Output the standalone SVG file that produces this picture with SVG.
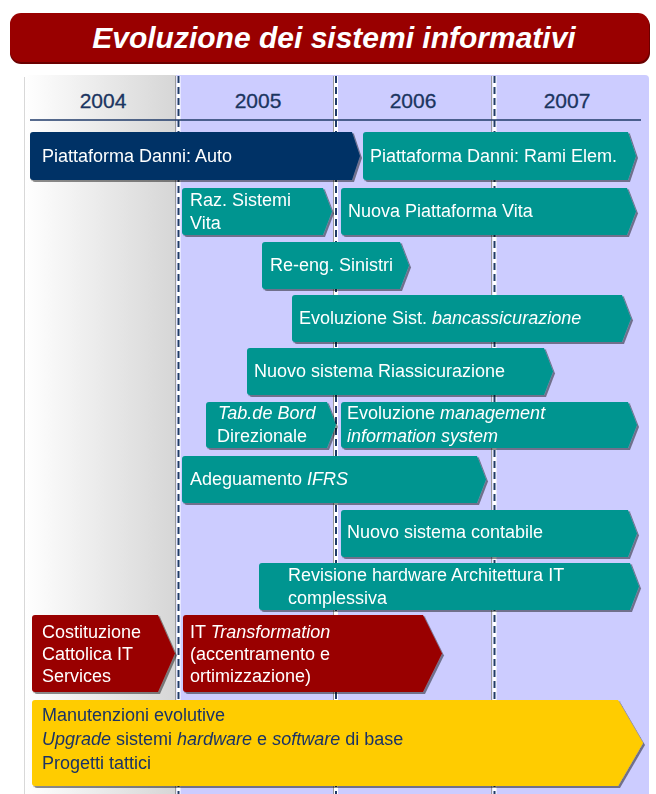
<svg xmlns="http://www.w3.org/2000/svg" width="656" height="794" viewBox="0 0 656 794">
  <defs>
    <linearGradient id="col2004" x1="0" y1="0" x2="1" y2="0">
      <stop offset="0" stop-color="#ffffff"/>
      <stop offset="1" stop-color="#d6d6d6"/>
    </linearGradient>
    <filter id="shade" x="-5%" y="-10%" width="110%" height="130%">
      <feOffset in="SourceAlpha" dx="1.5" dy="1.5" result="off"/>
      <feColorMatrix in="off" type="matrix" values="0 0 0 0 0  0 0 0 0 0  0 0 0 0 0  0 0 0 0.45 0" result="sh"/>
      <feMerge><feMergeNode in="sh"/><feMergeNode in="SourceGraphic"/></feMerge>
    </filter>
    <style>
      text { font-family: "Liberation Sans", Arial, sans-serif; }
      .title { font-size: 30px; font-weight: bold; font-style: italic; fill: #ffffff; }
      .year { font-size: 21px; fill: #1b3560; text-anchor: middle; stroke: #1b3560; stroke-width: 0.3; }
      .bar { filter: url(#shade); }
      .navy { fill: #003366; }
      .teal { fill: #009590; }
      .red { fill: #990000; }
      .gold { fill: #ffcc00; }
      .lbl { font-size: 18px; fill: #ffffff; }
      .dk { font-size: 18px; fill: #1a3366; }
      .it { font-style: italic; }
      .sep { stroke: #1f3a68; stroke-width: 2; stroke-dasharray: 7 4; }
      .sepbg { stroke: #ffffff; stroke-width: 4; }
      .edge { stroke: #9a9a9a; stroke-width: 1; }
    </style>
  </defs>

  <!-- title banner -->
  <g id="title">
    <rect x="10" y="15" width="640" height="49" rx="11" fill="#6a0000"/>
    <rect x="10" y="13" width="639" height="49" rx="11" fill="#990000"/>
    <text class="title" x="334" y="48" text-anchor="middle">Evoluzione dei sistemi informativi</text>
  </g>

  <!-- timeline background -->
  <g id="timeline">
    <path d="M24 794 V79 Q24 75 28 75 H176 V794 Z" fill="url(#col2004)"/>
    <line x1="24.5" y1="77" x2="24.5" y2="794" stroke="#d8d8d8"/>
    <path d="M176 794 V75 H645 Q649 75 649 79 V794 Z" fill="#ccccff"/>
    <line class="edge" x1="175.5" y1="76" x2="175.5" y2="794"/>
    <line class="edge" x1="333.5" y1="76" x2="333.5" y2="794"/>
    <line class="edge" x1="491.5" y1="76" x2="491.5" y2="794"/>
    <line class="sepbg" x1="178.5" y1="76" x2="178.5" y2="794"/>
    <line class="sepbg" x1="336" y1="76" x2="336" y2="794"/>
    <line class="sepbg" x1="494.5" y1="76" x2="494.5" y2="794"/>
    <line class="sep" x1="178.5" y1="76" x2="178.5" y2="794"/>
    <line class="sep" x1="336" y1="76" x2="336" y2="794"/>
    <line class="sep" x1="494.5" y1="76" x2="494.5" y2="794"/>
    <text class="year" x="103" y="108">2004</text>
    <text class="year" x="258" y="108">2005</text>
    <text class="year" x="413" y="108">2006</text>
    <text class="year" x="567" y="108">2007</text>
    <line x1="30" y1="120" x2="641" y2="120" stroke="#1f3a68" stroke-width="1.6"/>
  </g>

  <!-- projects -->
  <g id="danni-auto" class="bar">
    <path class="navy" d="M33 132 H352 L360 156 L352 180 H33 Q30 180 30 177 V135 Q30 132 33 132 Z"/>
    <text class="lbl" x="42" y="162">Piattaforma Danni: Auto</text>
  </g>
  <g id="danni-rami" class="bar">
    <path class="teal" d="M366 132 H628 L636 156 L628 180 H366 Q363 180 363 177 V135 Q363 132 366 132 Z"/>
    <text class="lbl" x="370" y="162">Piattaforma Danni: Rami Elem.</text>
  </g>
  <g id="raz-vita" class="bar">
    <path class="teal" d="M185 188 H323 L332 211.5 L323 235 H185 Q182 235 182 232 V191 Q182 188 185 188 Z"/>
    <text class="lbl" x="190" y="206">Raz. Sistemi</text>
    <text class="lbl" x="190" y="229">Vita</text>
  </g>
  <g id="nuova-vita" class="bar">
    <path class="teal" d="M344 188 H627 L636 211.5 L627 235 H344 Q341 235 341 232 V191 Q341 188 344 188 Z"/>
    <text class="lbl" x="348" y="217">Nuova Piattaforma Vita</text>
  </g>
  <g id="sinistri" class="bar">
    <path class="teal" d="M265 242 H400 L409 265.5 L400 289 H265 Q262 289 262 286 V245 Q262 242 265 242 Z"/>
    <text class="lbl" x="270" y="271">Re-eng. Sinistri</text>
  </g>
  <g id="bancassicurazione" class="bar">
    <path class="teal" d="M295 295 H622 L631 318.5 L622 342 H295 Q292 342 292 339 V298 Q292 295 295 295 Z"/>
    <text class="lbl" x="299" y="324">Evoluzione Sist. <tspan class="it">bancassicurazione</tspan></text>
  </g>
  <g id="riassicurazione" class="bar">
    <path class="teal" d="M250 348 H544 L553 371.5 L544 395 H250 Q247 395 247 392 V351 Q247 348 250 348 Z"/>
    <text class="lbl" x="254" y="377">Nuovo sistema Riassicurazione</text>
  </g>
  <g id="tab-bord" class="bar">
    <path class="teal" d="M209 402 H327 L336 425 L327 448 H209 Q206 448 206 445 V405 Q206 402 209 402 Z"/>
    <text class="lbl it" x="218" y="419">Tab.de Bord</text>
    <text class="lbl" x="217" y="442">Direzionale</text>
  </g>
  <g id="mis" class="bar">
    <path class="teal" d="M344 402 H628 L637 425 L628 448 H344 Q341 448 341 445 V405 Q341 402 344 402 Z"/>
    <text class="lbl" x="347" y="419">Evoluzione <tspan class="it">management</tspan></text>
    <text class="lbl it" x="347" y="442">information system</text>
  </g>
  <g id="ifrs" class="bar">
    <path class="teal" d="M185 456 H477 L486 479.5 L477 503 H185 Q182 503 182 500 V459 Q182 456 185 456 Z"/>
    <text class="lbl" x="190" y="485">Adeguamento <tspan class="it">IFRS</tspan></text>
  </g>
  <g id="contabile" class="bar">
    <path class="teal" d="M344 510 H628 L637 533.5 L628 557 H344 Q341 557 341 554 V513 Q341 510 344 510 Z"/>
    <text class="lbl" x="347" y="538">Nuovo sistema contabile</text>
  </g>
  <g id="hardware" class="bar">
    <path class="teal" d="M262 563 H630 L639 586.5 L630 610 H262 Q259 610 259 607 V566 Q259 563 262 563 Z"/>
    <text class="lbl" x="288" y="581">Revisione hardware Architettura IT</text>
    <text class="lbl" x="288" y="604">complessiva</text>
  </g>
  <g id="cattolica-its" class="bar">
    <path class="red" d="M35 615 H158 L175 653.5 L158 692 H35 Q32 692 32 689 V618 Q32 615 35 615 Z"/>
    <text class="lbl" x="42" y="638">Costituzione</text>
    <text class="lbl" x="42" y="660">Cattolica IT</text>
    <text class="lbl" x="42" y="682">Services</text>
  </g>
  <g id="it-transformation" class="bar">
    <path class="red" d="M186 615 H423 L442 653.5 L423 692 H186 Q183 692 183 689 V618 Q183 615 186 615 Z"/>
    <text class="lbl" x="190" y="638">IT <tspan class="it">Transformation</tspan></text>
    <text class="lbl" x="190" y="660">(accentramento e</text>
    <text class="lbl" x="190" y="682">ortimizzazione)</text>
  </g>
  <g id="manutenzioni" class="bar">
    <path class="gold" d="M35 700 H618 L643 743 L618 786 H35 Q32 786 32 783 V703 Q32 700 35 700 Z"/>
    <text class="dk" x="42" y="721">Manutenzioni evolutive</text>
    <text class="dk" x="42" y="745"><tspan class="it">Upgrade</tspan> sistemi <tspan class="it">hardware</tspan> e <tspan class="it">software</tspan> di base</text>
    <text class="dk" x="42" y="769">Progetti tattici</text>
  </g>
</svg>
